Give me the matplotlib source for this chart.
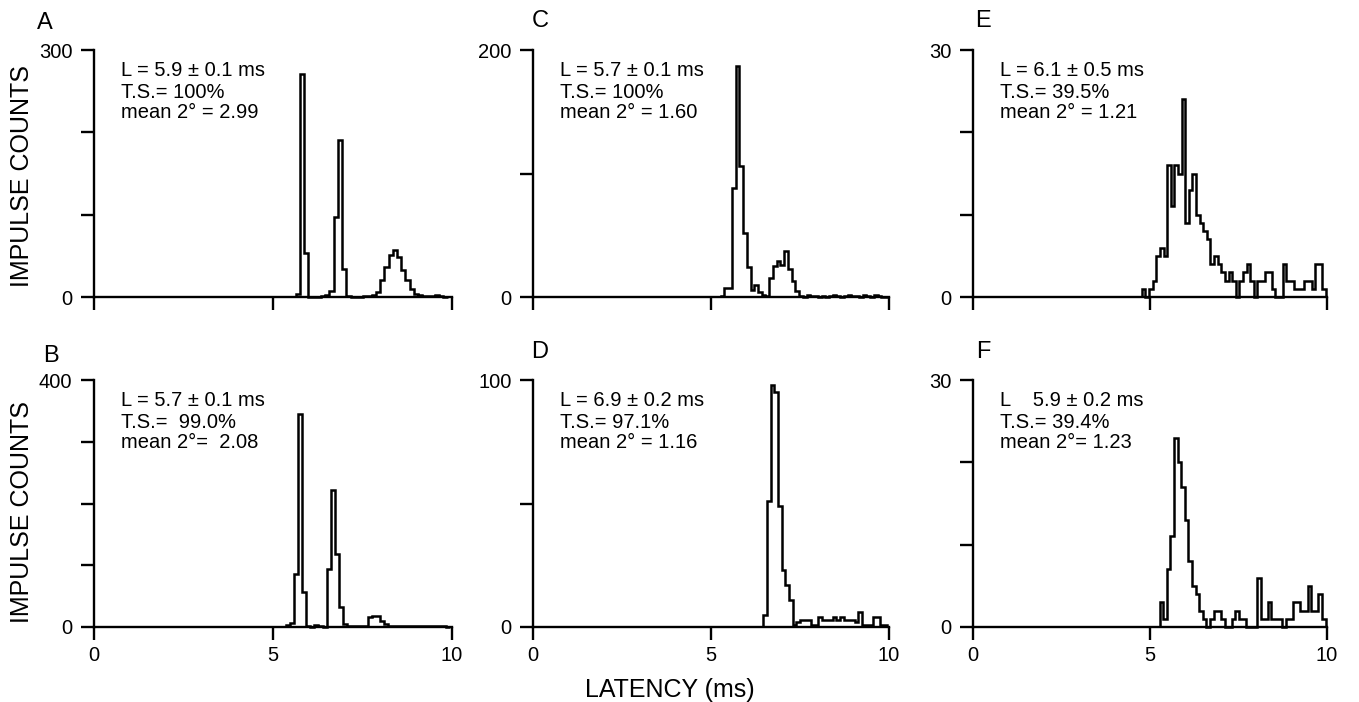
import numpy as np
import matplotlib
matplotlib.use("Agg")
import matplotlib.pyplot as plt

plt.rcParams['font.family'] = ['Liberation Sans', 'DejaVu Sans']

# ---- data (latency in ms, impulse counts per bin) ----
# each panel: first bin edge, bin width, counts
a_start, a_width = 5.632, 0.118
a_counts = [4, 271, 54, 0, 0, 0, 1, 2, 7, 97, 191, 34, 1, 0, 0, 0, 1, 1, 2,
            6, 21, 37, 51, 57, 48, 33, 21, 10, 4, 2, 1, 1, 1, 3, 1, 0]

b_start, b_width = 5.35, 0.115
b_counts = [3, 6, 86, 345, 56, 2, 0, 4, 1, 0, 94, 222, 119, 33, 5, 2, 1, 1,
            1, 2, 16, 18, 18, 10, 5, 2, 1, 1, 1, 1, 1, 1, 1, 1, 1, 1, 1, 1, 1, 0]

c_start, c_width = 5.27, 0.105
c_counts = [1, 7, 7, 88, 187, 106, 52, 24, 6, 10, 4, 2, 1, 15, 25, 29, 26, 37,
            23, 13, 5, 1, 0, 2, 1, 1, 0, 1, 0, 1, 2, 1, 0, 1, 2, 1, 1, 0, 2,
            1, 0, 2, 1, 0, 0]

d_start, d_width = 6.47, 0.1025
d_counts = [5, 51, 98, 95, 49, 23, 17, 11, 1, 2, 3, 3, 3, 1, 1, 4, 3, 3, 3,
            4, 3, 4, 3, 3, 3, 2, 6, 1, 1, 1, 4, 4, 1, 1]

e_start, e_width = 4.77, 0.102
e_counts = [1, 0, 1, 2, 5, 6, 5, 16, 11, 16, 15, 24, 9, 13, 15, 10, 9, 8, 7,
            4, 5, 4, 3, 2, 3, 2, 0, 2, 3, 4, 2, 0, 2, 2, 3, 3, 1, 0, 0, 4, 2,
            2, 1, 1, 1, 2, 2, 1, 4, 4, 1]

f_start, f_width = 5.27, 0.102
f_counts = [3, 1, 7, 11, 23, 20, 17, 13, 8, 5, 4, 2, 1, 0, 1, 2, 2, 1, 0, 0,
            1, 2, 1, 1, 0, 0, 0, 6, 1, 1, 3, 1, 1, 1, 0, 1, 1, 3, 3, 2, 2, 5,
            2, 2, 4, 1]

letters = ["A", "B", "C", "D", "E", "F"]
y_max = [300, 400, 200, 100, 30, 30]
y_step = [100, 100, 100, 50, 10, 10]
notes = [
    ["L = 5.9 \u00b1 0.1 ms", "T.S.= 100%", "mean 2\u00b0 = 2.99"],
    ["L = 5.7 \u00b1 0.1 ms", "T.S.=  99.0%", "mean 2\u00b0=  2.08"],
    ["L = 5.7 \u00b1 0.1 ms", "T.S.= 100%", "mean 2\u00b0 = 1.60"],
    ["L = 6.9 \u00b1 0.2 ms", "T.S.= 97.1%", "mean 2\u00b0 = 1.16"],
    ["L = 6.1 \u00b1 0.5 ms", "T.S.= 39.5%", "mean 2\u00b0 = 1.21"],
    ["L    5.9 \u00b1 0.2 ms", "T.S.= 39.4%", "mean 2\u00b0= 1.23"],
]
hists = [(a_start, a_width, a_counts), (b_start, b_width, b_counts),
         (c_start, c_width, c_counts), (d_start, d_width, d_counts),
         (e_start, e_width, e_counts), (f_start, f_width, f_counts)]

W, H = 1359, 702
fig = plt.figure(figsize=(W / 100, H / 100), dpi=100)

# axes boxes in pixels: (left, top, right, bottom)
col_x = [(94, 452), (533, 889), (973, 1327)]
row_y = [(50, 297), (380, 627)]
letter_pos = [(45, 23), (51, 356), (540, 21), (540, 352), (983, 21), (983, 352)]

fs = 14.5
for i in range(6):
    col, row = i // 2, i % 2
    x0, x1 = col_x[col]
    y0, y1 = row_y[row]
    ax = fig.add_axes([x0 / W, 1 - y1 / H, (x1 - x0) / W, (y1 - y0) / H])

    start, width, counts = hists[i]
    edges = start + width * np.arange(len(counts) + 1)
    ax.stairs(counts, edges, color="black", lw=1.8, baseline=0, clip_on=False)

    ax.set_xlim(0, 10)
    ax.set_ylim(0, y_max[i])
    for s in ["top", "right"]:
        ax.spines[s].set_visible(False)
    for s in ["left", "bottom"]:
        ax.spines[s].set_linewidth(1.7)

    ax.set_xticks([0, 5, 10])
    yt = np.arange(0, y_max[i] + 1, y_step[i])
    ax.set_yticks(yt)
    ax.set_yticklabels(["0"] + [""] * (len(yt) - 2) + [str(y_max[i])])
    ax.tick_params(direction="out", length=9.5, width=1.7, labelsize=fs)
    ax.tick_params(axis="y", pad=6)
    ax.tick_params(axis="x", pad=4)
    if row == 0:
        ax.set_xticklabels([])
    else:
        ax.set_xticklabels(["0", "5", "10"])

    for k, line in enumerate(notes[i]):
        ax.annotate(line, xy=(0, 1), xycoords="axes fraction",
                    xytext=(27 * 0.72, -(21 + 21 * k) * 0.72),
                    textcoords="offset points", fontsize=fs,
                    ha="left", va="center")

    lx, ly = letter_pos[i]
    fig.text(lx / W, 1 - ly / H, letters[i], fontsize=17,
             ha="center", va="center")

fig.text(22 / W, 1 - 176 / H, "IMPULSE COUNTS", rotation=90,
         fontsize=18, ha="center", va="center")
fig.text(22 / W, 1 - 512 / H, "IMPULSE COUNTS", rotation=90,
         fontsize=18, ha="center", va="center")
fig.text(670 / W, 1 - 690 / H, "LATENCY (ms)", fontsize=18,
         ha="center", va="center")

fig.savefig("out.png", dpi=100, facecolor="white")
